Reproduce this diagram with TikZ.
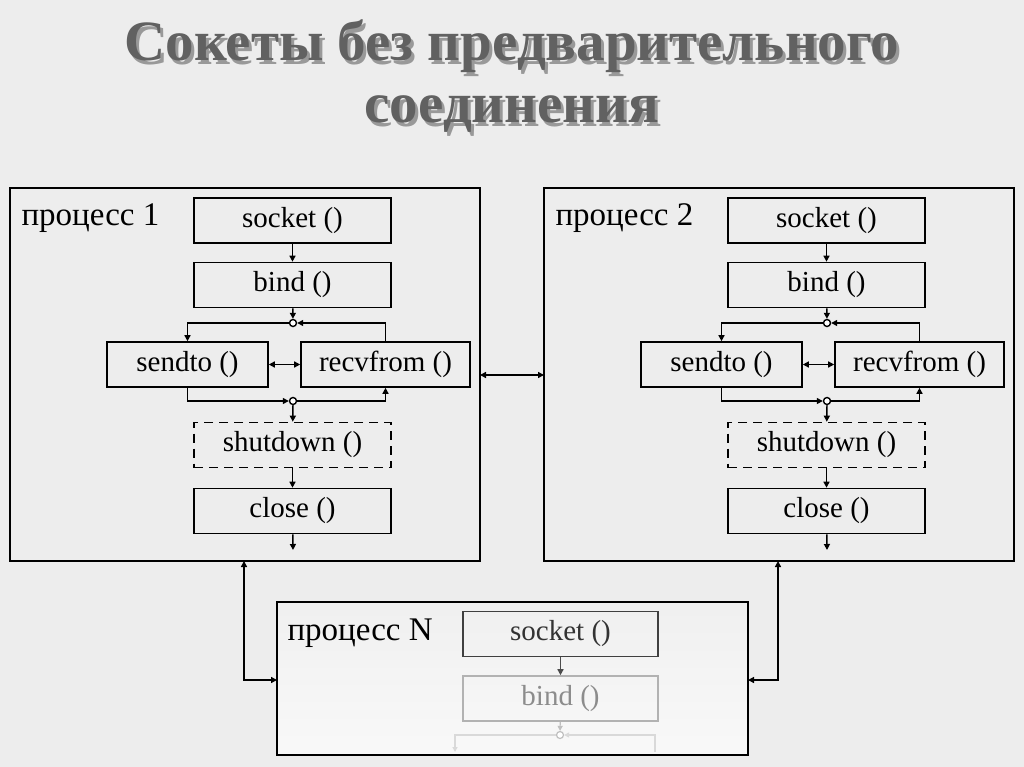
\documentclass[tikz,border=0pt]{standalone}
\usepackage{fontspec}
\setmainfont{Liberation Serif}
\usetikzlibrary{arrows.meta}
\begin{document}
\begin{tikzpicture}[x=1pt,y=-1pt,
  fn/.style={draw,line width=1.6pt,minimum height=45pt,inner sep=0pt,font=\fontsize{29}{31}\selectfont},
  ar/.style={line width=1.4pt,-{Triangle[length=6pt,width=6pt]}},
  dar/.style={line width=1.4pt,{Triangle[length=6pt,width=6pt]}-{Triangle[length=6pt,width=6pt]}},
  jn/.style={circle,draw,line width=1.4pt,fill=white,inner sep=0pt,minimum size=7pt},
  pbox/.style={draw,line width=1.6pt},
  ttl/.style={font=\bfseries\fontsize{57}{62}\selectfont,align=center},
  plab/.style={anchor=west,font=\fontsize{33}{35}\selectfont}]
\fill[gray!14] (0,0) rectangle (1024,767);
\useasboundingbox (0,0) rectangle (1024,767);
\node[ttl,text=black!40] (tshadow) at (515,80) {Сокеты без предварительного\\соединения};
\node[ttl,text=black!62] (title) at (512,76) {Сокеты без предварительного\\соединения};
\foreach \dx/\n in {0/1,534/2}{
\begin{scope}[xshift=\dx pt]
\draw[pbox] (10,188) rectangle (480,561);
\node[plab] at (18,218) {процесс \n};
\node[fn,minimum width=197pt] (s\n) at (292.5,220.5) {socket ()};
\node[fn,minimum width=197pt] (b\n) at (292.5,285) {bind ()};
\node[jn] (j\n) at (293,323) {};
\node[fn,minimum width=161pt] (se\n) at (187.5,364.5) {sendto ()};
\node[fn,minimum width=169pt] (r\n) at (385.5,364.5) {recvfrom ()};
\node[jn] (k\n) at (293,401) {};
\node[fn,dash pattern=on 9pt off 6pt,minimum width=197pt] (sh\n) at (292.5,445) {shutdown ()};
\node[fn,minimum width=197pt] (c\n) at (292.5,511) {close ()};
\coordinate (e\n) at (293,550);
\draw[ar] (s\n) -- (b\n);
\draw[ar] (b\n) -- (j\n);
\draw[ar] (r\n.north) |- (j\n);
\draw[ar] (j\n) -| (se\n.north);
\draw[ar] (se\n.south) |- (k\n);
\draw[ar] (k\n) -| (r\n.south);
\draw[dar] (se\n) -- (r\n);
\draw[ar] (k\n) -- (sh\n);
\draw[ar] (sh\n) -- (c\n);
\draw[ar] (c\n) -- (e\n);
\end{scope}}
\coordinate (p1r) at (480,375); \coordinate (p2l) at (544,375);
\draw[dar] (p1r) -- (p2l);
\draw[pbox,top color=gray!12,bottom color=gray!5] (277,602) rectangle (748,755);
\node[plab] at (284,633) {процесс N};
\node[fn,minimum width=195pt,draw=black!75,text=black!80] (sN) at (560.5,634) {socket ()};
\node[fn,minimum width=195pt,draw=black!30,text=black!45] (bN) at (560.5,698.5) {bind ()};
\node[jn,draw=black!25,line width=1.2pt] (jN) at (560,735) {};
\draw[ar,draw=black!70] (sN) -- (bN);
\draw[line width=1.2pt,draw=black!25,-{Triangle[length=5pt,width=5pt]}] (bN) -- (jN);
\draw[line width=1.2pt,draw=black!15,-{Triangle[length=5pt,width=5pt]}] (655,752) |- (jN);
\draw[line width=1.2pt,draw=black!15,-{Triangle[length=5pt,width=5pt]}] (jN) -| (455,752);
\coordinate (a1) at (244,561); \coordinate (a2) at (778,561);
\coordinate (n1) at (277,680); \coordinate (n2) at (748,680);
\draw[dar] (a1) |- (n1);
\draw[dar] (a2) |- (n2);
\end{tikzpicture}
\end{document}
